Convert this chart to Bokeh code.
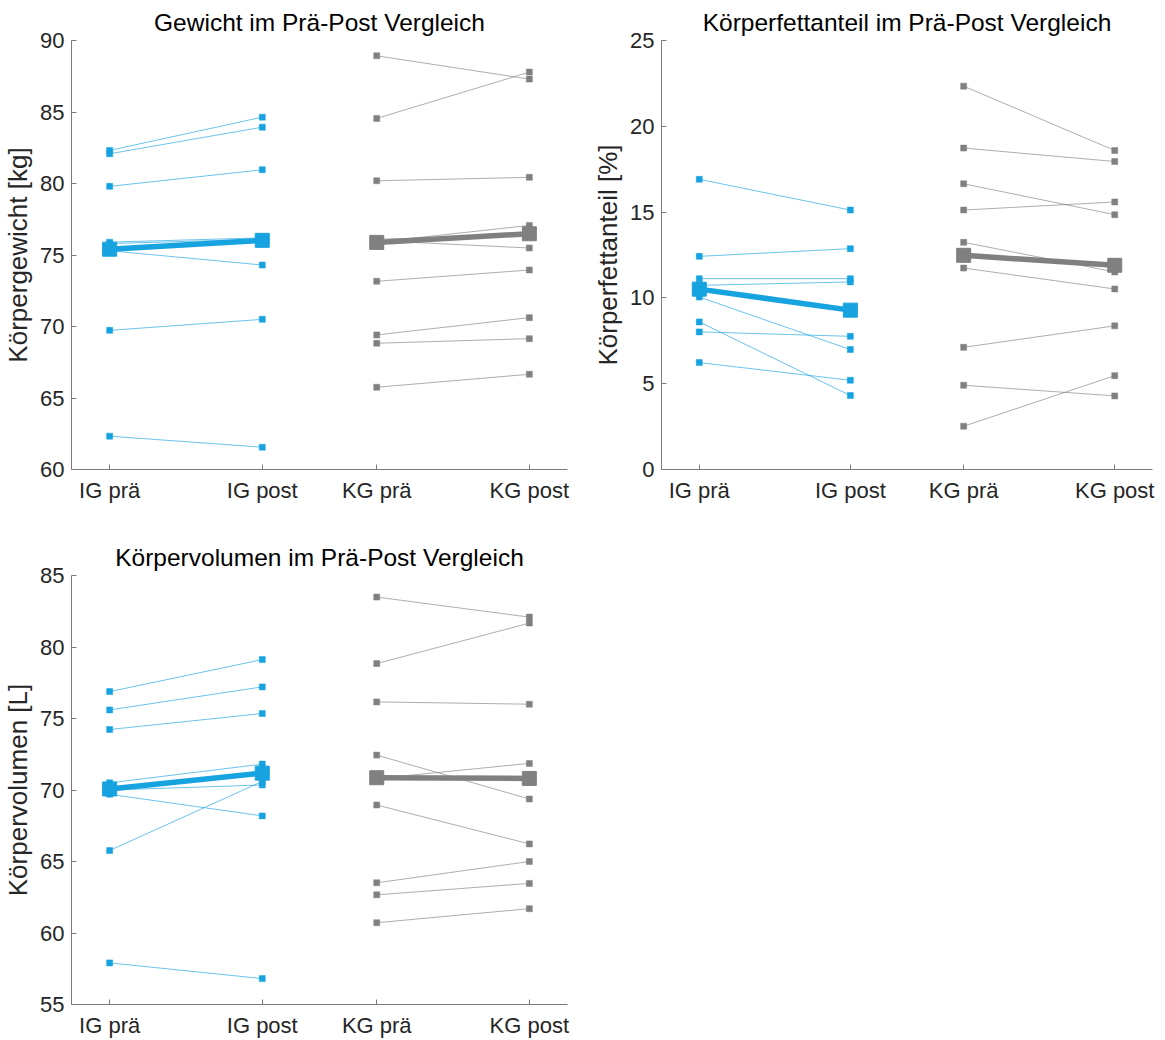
import numpy as np
from bokeh.plotting import figure
from bokeh.layouts import column, row
from bokeh.models import FixedTicker
from bokeh.embed import file_html
from bokeh.resources import INLINE

# Measurement points (IG = intervention group, KG = control group)
categories = ["IG prä", "IG post", "KG prä", "KG post"]

# Body weight [kg], one entry per participant
gewicht_ig_pre = [82.31, 82.08, 79.80, 75.9, 75.8, 75.3, 69.73, 62.33]
gewicht_ig_post = [84.64, 83.94, 80.96, 76.2, 76.1, 74.3, 70.50, 61.56]
gewicht_kg_pre = [88.93, 84.55, 80.19, 75.9, 76.0, 76.1, 73.16, 69.41, 68.83, 65.75]
gewicht_kg_post = [87.30, 87.79, 80.43, 77.07, 75.49, 76.4, 73.95, 70.62, 69.15, 66.66]

# Body fat percentage [%]
fett_ig_pre = [16.91, 12.42, 11.12, 10.73, 10.05, 8.60, 8.02, 6.23]
fett_ig_post = [15.12, 12.87, 11.12, 10.93, 6.99, 4.31, 7.76, 5.20]
fett_kg_pre = [22.34, 18.73, 16.65, 15.12, 13.24, 12.43, 11.74, 7.12, 4.91, 2.52]
fett_kg_post = [18.59, 17.95, 14.85, 15.59, 11.51, 11.86, 10.52, 8.37, 4.29, 5.47]

# Body volume [L]
volumen_ig_pre = [76.88, 75.60, 74.23, 70.5, 70.0, 69.7, 65.77, 57.91]
volumen_ig_post = [79.12, 77.21, 75.35, 71.81, 70.35, 68.19, 70.6, 56.81]
volumen_kg_pre = [83.49, 78.84, 76.16, 72.44, 70.8, 71.0, 68.95, 63.51, 62.67, 60.72]
volumen_kg_post = [82.09, 81.67, 76.0, 69.37, 71.86, 70.7, 66.23, 65.0, 63.47, 61.70]

# Horizontal placement of the four measurement points
X_POS = [1.0, 2.0, 2.75, 3.75]
X_RANGE = (0.75, 4.0)

BLUE = "#17a2e0"
GRAY = "#808080"
FONT = "Liberation Sans"
TEXT = "#262626"
AXIS = "#7a7a7a"


def group(p, pre, post, x0, x1, color):
    xs = [[x0, x1] for _ in pre]
    ys = [[a, b] for a, b in zip(pre, post)]
    p.multi_line(xs, ys, line_color=color, line_width=0.8, line_alpha=0.8)
    p.scatter([x0] * len(pre), pre, marker="square", size=6,
              fill_color=color, line_color=color, line_width=0.5)
    p.scatter([x1] * len(post), post, marker="square", size=6,
              fill_color=color, line_color=color, line_width=0.5)


def mean_line(p, pre, post, x0, x1, color):
    m = [float(np.mean(pre)), float(np.mean(post))]
    p.line([x0, x1], m, line_color=color, line_width=5.5)
    p.scatter([x0, x1], m, marker="square", size=14,
              fill_color=color, line_color=color)


def panel(title, ylabel, yr, yticks, data, width, height,
          left, right, top, bottom):
    p = figure(width=width, height=height, x_range=X_RANGE, y_range=yr,
               output_backend="svg", toolbar_location=None,
               min_border_left=left, min_border_right=right,
               min_border_top=top, min_border_bottom=bottom)
    p.outline_line_color = None
    p.xgrid.visible = False
    p.ygrid.visible = False
    p.background_fill_color = "white"
    p.border_fill_color = "white"

    p.title.text = title
    p.title.align = "center"
    p.title.text_font = FONT
    p.title.text_font_size = "24.5px"
    p.title.text_font_style = "normal"
    p.title.text_color = "#000000"
    p.title.standoff = 9

    ig_pre, ig_post, kg_pre, kg_post = data
    group(p, ig_pre, ig_post, X_POS[0], X_POS[1], BLUE)
    group(p, kg_pre, kg_post, X_POS[2], X_POS[3], GRAY)
    mean_line(p, ig_pre, ig_post, X_POS[0], X_POS[1], BLUE)
    mean_line(p, kg_pre, kg_post, X_POS[2], X_POS[3], GRAY)

    for ax in (p.xaxis[0], p.yaxis[0]):
        ax.axis_line_color = AXIS
        ax.axis_line_width = 1
        ax.major_tick_line_color = AXIS
        ax.major_tick_in = 5
        ax.major_tick_out = 0
        ax.minor_tick_line_color = None
        ax.major_label_text_font = FONT
        ax.major_label_text_font_size = "22px"
        ax.major_label_text_color = TEXT

    p.xaxis.ticker = FixedTicker(ticks=X_POS)
    p.xaxis.major_label_overrides = {x: c for x, c in zip(X_POS, categories)}
    p.xaxis.major_label_standoff = 8

    p.yaxis.ticker = FixedTicker(ticks=yticks)
    p.yaxis.major_label_standoff = 7
    p.yaxis.axis_label = ylabel
    p.yaxis.axis_label_text_font = FONT
    p.yaxis.axis_label_text_font_size = "26px"
    p.yaxis.axis_label_text_font_style = "normal"
    p.yaxis.axis_label_text_color = TEXT
    p.yaxis.axis_label_standoff = 4
    return p


p1 = panel("Gewicht im Prä-Post Vergleich", "Körpergewicht [kg]", (60, 90),
           list(range(60, 91, 5)),
           (gewicht_ig_pre, gewicht_ig_post, gewicht_kg_pre, gewicht_kg_post),
           590, 530, 71, 23, 40, 61)
p2 = panel("Körperfettanteil im Prä-Post Vergleich", "Körperfettanteil [%]", (0, 25),
           list(range(0, 26, 5)),
           (fett_ig_pre, fett_ig_post, fett_kg_pre, fett_kg_post),
           575, 530, 67, 13, 40, 61)
p3 = panel("Körpervolumen im Prä-Post Vergleich", "Körpervolumen [L]", (55, 85),
           list(range(55, 86, 5)),
           (volumen_ig_pre, volumen_ig_post, volumen_kg_pre, volumen_kg_post),
           590, 510, 71, 23, 45, 35)

layout = column(row(p1, p2), p3)

with open("out.html", "w") as f:
    f.write(file_html(layout, INLINE))
